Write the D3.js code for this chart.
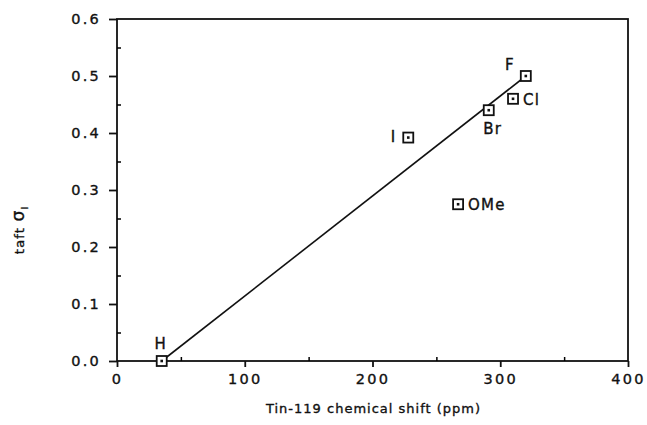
<!DOCTYPE html>
<html>
<head>
<meta charset="utf-8">
<script src="https://cdn.jsdelivr.net/npm/d3@7"></script>
<style>
  body { margin: 0; background: #fff; }
  text { font-family: "DejaVu Sans", sans-serif; fill: #111; stroke: #111; stroke-width: 0.35px; }
</style>
</head>
<body>
<svg width="647" height="425"></svg>
<script>
// data
var substituents = ["H", "I", "OMe", "Br", "Cl", "F"];
var shifts = [35, 228, 267, 291, 310, 320];      // ppm
var taftSigma = [0.0, 0.392, 0.275, 0.44, 0.46, 0.50];
// fitted line end points
var fitShift = [35, 320];
var fitSigma = [0.0, 0.50];
var xTicks = [0, 100, 200, 300, 400];
var yTicks = [0, 0.1, 0.2, 0.3, 0.4, 0.5, 0.6];

var margin = {top: 19, right: 19, bottom: 64, left: 117},
  width = 647 - margin.left - margin.right,
  height = 425 - margin.top - margin.bottom;

var svg = d3.select("svg")
  .append("g")
  .attr("transform", "translate(" + margin.left + "," + margin.top + ")");

var x = d3.scaleLinear().domain([0, 400]).range([0, width]);
var y = d3.scaleLinear().domain([0, 0.6]).range([height, 0]);

// frame
svg.append("rect")
  .attr("width", width).attr("height", height)
  .attr("fill", "none").attr("stroke", "#111").attr("stroke-width", 1.8);

// minor ticks
svg.append("g")
  .attr("transform", "translate(0," + height + ")")
  .call(d3.axisBottom(x).tickValues([50, 150, 250, 350]).tickSize(-4).tickFormat(""))
  .call(function (g) { g.select(".domain").remove(); })
  .selectAll("line").attr("stroke-width", 1.5);
svg.append("g")
  .call(d3.axisLeft(y).tickValues([0.05, 0.15, 0.25, 0.35, 0.45, 0.55]).tickSize(-4).tickFormat(""))
  .call(function (g) { g.select(".domain").remove(); })
  .selectAll("line").attr("stroke-width", 1.5);

// major ticks and labels
var xAxis = svg.append("g")
  .attr("transform", "translate(0," + height + ")")
  .call(d3.axisBottom(x).tickValues(xTicks).tickSize(6).tickPadding(7).tickFormat(d3.format("d")));
var yAxis = svg.append("g")
  .call(d3.axisLeft(y).tickValues(yTicks).tickSize(8).tickPadding(8).tickFormat(d3.format(".1f")));
[xAxis, yAxis].forEach(function (a) {
  a.select(".domain").remove();
  a.selectAll("line").attr("stroke", "#111").attr("stroke-width", 1.8);
  a.selectAll("text")
    .style("font-size", "14.5px")
    .style("letter-spacing", "2.2px")
    .attr("fill", "#111");
});

// fit line
svg.append("line")
  .attr("x1", x(fitShift[0])).attr("y1", y(fitSigma[0]))
  .attr("x2", x(fitShift[1])).attr("y2", y(fitSigma[1]))
  .attr("stroke", "#111").attr("stroke-width", 1.6);

// points
var pts = substituents.map(function (s, i) {
  return {name: s, x: shifts[i], y: taftSigma[i]};
});
var node = svg.append("g").selectAll("g")
  .data(pts)
  .enter().append("g")
  .attr("transform", function (d) { return "translate(" + x(d.x) + "," + y(d.y) + ")"; });
node.append("rect")
  .attr("x", -5).attr("y", -5).attr("width", 10).attr("height", 10)
  .attr("fill", "#fff").attr("stroke", "#111").attr("stroke-width", 1.8);
node.append("rect")
  .attr("x", -1.3).attr("y", -1.3).attr("width", 2.6).attr("height", 2.6)
  .attr("fill", "#111");

// point labels
var labelPos = {
  H: [-1, -12, "middle"],
  F: [-11, -6, "end"],
  Cl: [10, 6, "start"],
  Br: [4, 24, "middle"],
  I: [-12, 4, "end"],
  OMe: [10, 6, "start"]
};
node.append("text")
  .attr("x", function (d) { return labelPos[d.name][0]; })
  .attr("y", function (d) { return labelPos[d.name][1]; })
  .attr("text-anchor", function (d) { return labelPos[d.name][2]; })
  .style("font-size", "15px")
  .style("letter-spacing", "1.2px")
  .text(function (d) { return d.name; });

// axis titles
svg.append("text")
  .attr("x", width / 2 + 1)
  .attr("y", height + 52)
  .attr("text-anchor", "middle")
  .style("font-size", "13px")
  .style("letter-spacing", "1px")
  .text("Tin-119  chemical  shift  (ppm)");

var yt = svg.append("text")
  .attr("transform", "translate(" + (24 - margin.left) + "," + (y(0.23)) + ") rotate(-90)")
  .attr("text-anchor", "middle")
  .style("font-size", "13px")
  .style("letter-spacing", "1.2px");
yt.append("tspan").text("taft ");
yt.append("tspan").style("font-size", "17px").text("σ");
yt.append("tspan").attr("dy", 4).style("font-size", "9px").text("I");
</script>
</body>
</html>
